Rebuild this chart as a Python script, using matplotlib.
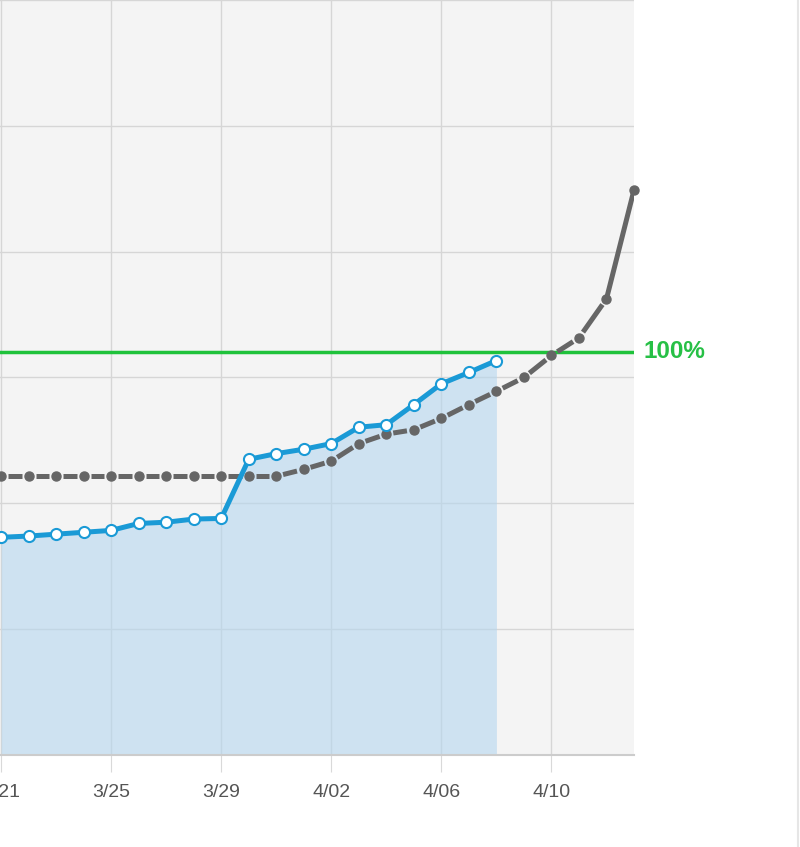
import matplotlib
matplotlib.use("Agg")
import matplotlib.pyplot as plt
import numpy as np
import datetime as dt

# --- data ---
start = dt.date(2020, 3, 21)
actual_values = [346, 348, 351, 354, 357, 368, 370, 375, 376, 470, 479, 486,
                 495, 521, 525, 557, 590, 608, 627]          # 3/21 .. 4/08
projected_values = [443, 443, 443, 443, 443, 443, 443, 443, 443, 443, 443,
                    454, 467, 495, 510, 517, 535, 557, 578, 600, 635, 663,
                    725, 898]                                # 3/21 .. 4/13
capacity = 641
capacity_label = "100%"
tick_dates = ["3/21", "3/25", "3/29", "4/02", "4/06", "4/10"]
y_ticks = [0, 200, 400, 600, 800, 1000, 1200]

def day_index(label):
    m, d = label.split("/")
    return (dt.date(2020, int(m), int(d)) - start).days

x_actual = np.arange(len(actual_values))
x_proj = np.arange(len(projected_values))
solid_from = 22  # last segment drawn solid

plt.rcParams['font.family'] = ['Liberation Sans', 'DejaVu Sans']
fig = plt.figure(figsize=(8, 8.47), dpi=100)
ax = fig.add_axes([0, 92/847, 634/800, 755/847])
ax.set_facecolor('#f4f4f4')

ax.set_xlim(-0.04, 23.0)
ax.set_ylim(0, 1200)
ax.set_yticks(y_ticks)
ax.set_xticks([day_index(t) for t in tick_dates])
ax.set_xticklabels(tick_dates)
ax.grid(True, color='#d6d6d6', linewidth=1)
ax.set_axisbelow(True)
ax.tick_params(axis='y', left=False, labelleft=False)
ax.tick_params(axis='x', length=12, color='#d9d9d9', labelsize=14,
               labelcolor='#555555', pad=9)
for s in ['top', 'left', 'right']:
    ax.spines[s].set_visible(False)
ax.spines['bottom'].set_color('#cccccc')
ax.spines['bottom'].set_linewidth(1.5)

# fill under actual
ax.fill_between(x_actual, actual_values, 0, color='#b5d6ef', alpha=0.6,
                linewidth=0, zorder=2)

# capacity line
ax.axhline(capacity, color='#1fc23b', linewidth=2.5, zorder=3)
ax.text(1.015, capacity, capacity_label, transform=ax.get_yaxis_transform(),
        color='#27c046', fontsize=17.5, fontweight='bold', va='center',
        ha='left', clip_on=False)

# projected line: one dash per segment between dots, last segment solid
gap_px = 7.0
pts = ax.transData.transform(np.column_stack([x_proj, projected_values]))
inv = ax.transData.inverted()
for i in range(len(x_proj) - 1):
    p0, p1 = pts[i], pts[i + 1]
    if i >= solid_from:
        seg = np.array([p0, p1])
    else:
        d = p1 - p0
        L = np.hypot(*d)
        u = d / L
        seg = np.array([p0 + u * gap_px, p1 - u * gap_px])
    dseg = inv.transform(seg)
    ax.plot(dseg[:, 0], dseg[:, 1], color='#666666', linewidth=3.6,
            solid_capstyle='butt', zorder=4)
ax.plot(x_proj, projected_values, linestyle='none', marker='o',
        markersize=6.5, color='#666666', zorder=5, clip_on=False)

# actual line
ax.plot(x_actual, actual_values, color='#1a9ad6', linewidth=3.6, zorder=6,
        marker='o', markersize=8, markerfacecolor='white',
        markeredgecolor='#1a9ad6', markeredgewidth=1.5)

# faint frame at right
fig.add_artist(plt.Line2D([798/800, 798/800], [0, 1], color='#e6e6e6',
                          linewidth=1.5, transform=fig.transFigure))

fig.savefig('out.png', dpi=100)
